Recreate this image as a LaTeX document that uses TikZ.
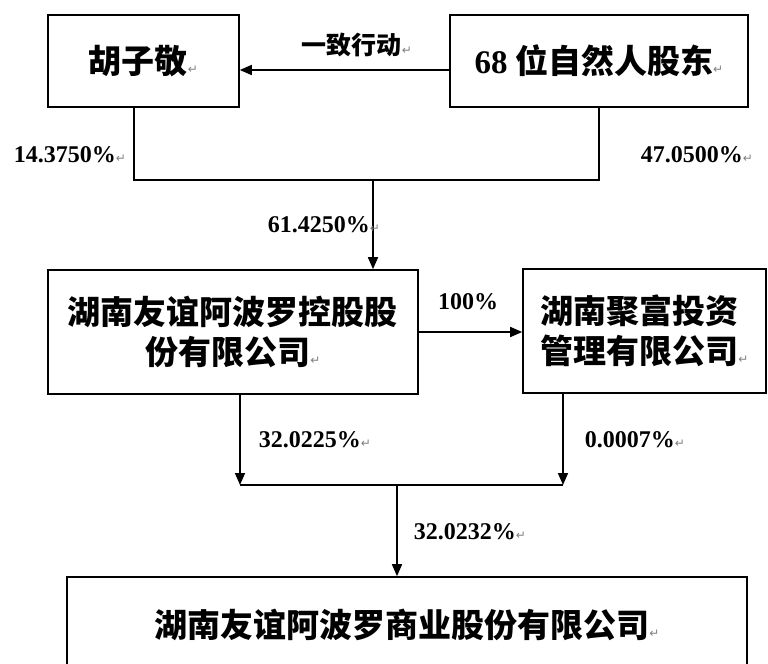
\documentclass[tikz,border=0pt]{standalone}
\usepackage{fontspec}
\setmainfont{Liberation Serif}
\newfontfamily\cjk{Noto Sans CJK SC}
\newfontfamily\symfont{DejaVu Sans}
\usetikzlibrary{positioning, arrows.meta}
\tikzstyle{box} = [draw, line width=0.8pt, inner sep=0pt, align=center, font=\cjk\bfseries\fontsize{16.5}{20}\selectfont]
\tikzstyle{arrow} = [line width=0.8pt,-{Triangle[length=6pt,width=5pt]}]
\tikzstyle{link} = [line width=0.8pt]
\tikzstyle{pct} = [inner sep=0pt, font=\bfseries\fontsize{12}{14}\selectfont]
\newcommand{\pmark}{{\symfont\mdseries\fontsize{6}{6}\selectfont\textcolor{gray}{↵}}}

\begin{document}
\begin{tikzpicture}[x=0.5pt, y=-0.5pt]
        \useasboundingbox (0,0) rectangle (768,664);
        \node[box, minimum width=95.5pt, minimum height=46pt] (hu) at (143.5,61) {胡子敬\pmark};
        \node[box, minimum width=149pt, minimum height=46pt] (nat) at (599,61) {{\rmfamily 68} 位自然人股东\pmark};
        \node[box, minimum width=185pt, minimum height=62pt] (hold) at (233,332) {湖南友谊阿波罗控股股\\份有限公司\pmark};
        \node[box, align=left, minimum width=121.5pt, minimum height=62pt] (fund) at (644.5,331) {湖南聚富投资\\管理有限公司\pmark};
        \node[box, minimum width=340pt, minimum height=48pt] (main) at (407,625) {湖南友谊阿波罗商业股份有限公司\pmark};
        \coordinate (j1) at (373,180);
        \coordinate (j2) at (240,485);
        \coordinate (j3) at (563,485);
        \coordinate (j4) at (397,485);
        \draw[arrow] ([yshift=-4.5pt]nat.west) -- ([yshift=-4.5pt]hu.east);
        \node[inner sep=0pt, font=\cjk\bfseries\fontsize{12.5}{14}\selectfont] (act) at (357,45) {一致行动\pmark};
        \draw[link] ([xshift=-4.75pt]hu.south) |- (j1) -| (nat.south);
        \draw[arrow] (j1) -- (j1 |- hold.north);
        \draw[arrow] (hold.east) -- (hold.east -| fund.west);
        \draw[arrow] (hold.south -| j2) -- (j2);
        \draw[arrow] (fund.south -| j3) -- (j3);
        \draw[link] (j2) -- (j3);
        \draw[arrow] (j4) -- (j4 |- main.north);
        \node[pct] (p1) at (70,155) {14.3750\%\pmark};
        \node[pct] (p2) at (697,155) {47.0500\%\pmark};
        \node[pct] (p3) at (324,225) {61.4250\%\pmark};
        \node[pct] (p4) at (468,302) {100\%};
        \node[pct] (p5) at (315,440) {32.0225\%\pmark};
        \node[pct] (p6) at (635,440) {0.0007\%\pmark};
        \node[pct] (p7) at (470,532) {32.0232\%\pmark};
    \end{tikzpicture}
\end{document}
